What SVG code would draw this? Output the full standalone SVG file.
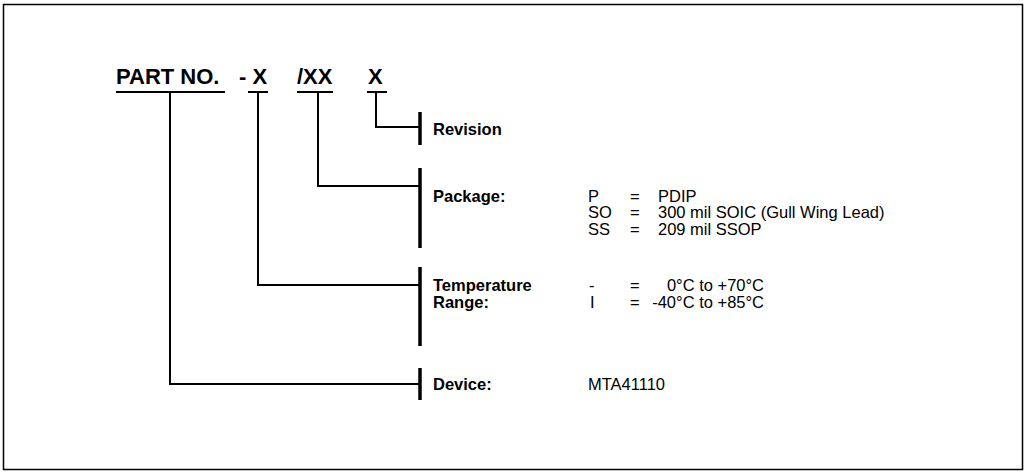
<svg xmlns="http://www.w3.org/2000/svg" width="1027" height="472" viewBox="0 0 1027 472">
<style>
.hdr{font-family:"Liberation Sans",Arial,sans-serif;font-weight:bold;font-size:22px;fill:#000}
.lbl{font-family:"Liberation Sans",Arial,sans-serif;font-weight:bold;font-size:16.5px;fill:#000}
.val{font-family:"Liberation Sans",Arial,sans-serif;font-size:16.5px;fill:#000}
.ln{stroke:#000;stroke-width:2;fill:none}
.tick{stroke:#000;stroke-width:3.5;fill:none}
</style>
<rect x="3.5" y="4.5" width="1019" height="465" fill="#fff" stroke="#000" stroke-width="1.5"/>
<g id="header">
<text class="hdr" x="116" y="84">PART NO.</text>
<text class="hdr" x="239" y="84">- X</text>
<text class="hdr" x="297" y="84">/XX</text>
<text class="hdr" x="368" y="84">X</text>
<path class="ln" d="M116 92H225M248 92H268M297 92H333M367 92H387"/>
</g>
<g id="connectors">
<path class="ln" d="M376 92V127H420"/>
<path class="ln" d="M318 92V186H420"/>
<path class="ln" d="M258 92V285H420"/>
<path class="ln" d="M170 92V384H420"/>
<path class="tick" d="M420 112V145M420 168V248M420 267V346M420 368V400"/>
</g>
<g id="revision">
<text class="lbl" x="433" y="135">Revision</text>
</g>
<g id="package">
<text class="lbl" x="433" y="202">Package:</text>
<text class="val" x="588" y="202">P</text><text class="val" x="630" y="202">=</text><text class="val" x="658" y="202">PDIP</text>
<text class="val" x="588" y="218">SO</text><text class="val" x="630" y="218">=</text><text class="val" x="658" y="218">300 mil SOIC (Gull Wing Lead)</text>
<text class="val" x="588" y="235">SS</text><text class="val" x="630" y="235">=</text><text class="val" x="658" y="235">209 mil SSOP</text>
</g>
<g id="temperature">
<text class="lbl" x="433" y="291">Temperature</text>
<text class="lbl" x="433" y="308">Range:</text>
<text class="val" x="589" y="291">-</text><text class="val" x="630" y="291">=</text><text class="val" x="764" y="291" text-anchor="end">0°C to +70°C</text>
<text class="val" x="590" y="308">I</text><text class="val" x="630" y="308">=</text><text class="val" x="764" y="308" text-anchor="end">-40°C to +85°C</text>
</g>
<g id="device">
<text class="lbl" x="433" y="390">Device:</text>
<text class="val" x="588" y="390">MTA41110</text>
</g>
</svg>
